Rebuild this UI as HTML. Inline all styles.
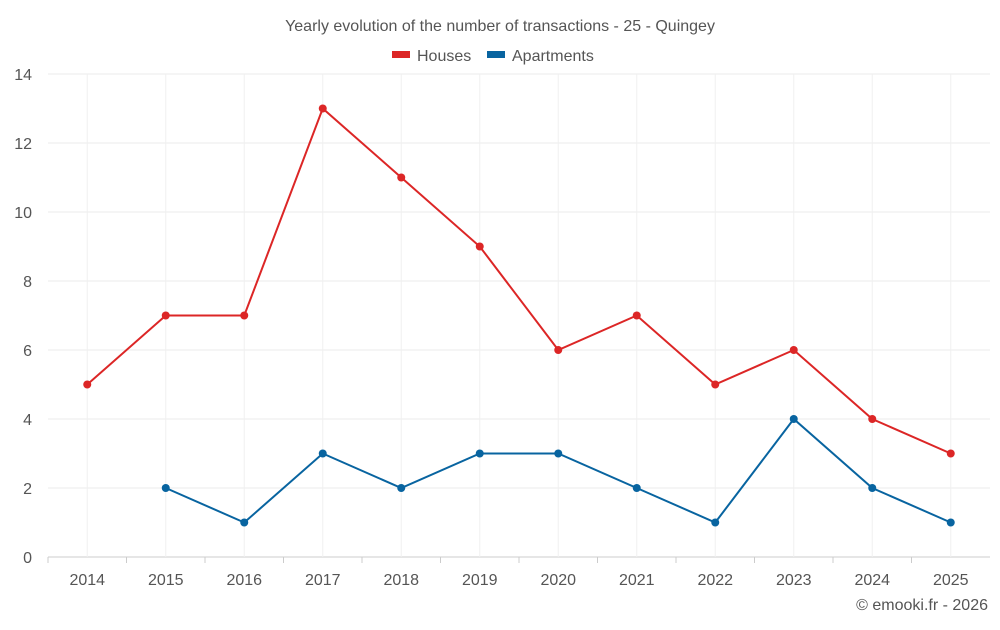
<!DOCTYPE html>
<html><head><meta charset="utf-8"><style>
body{margin:0;background:#fff;font-family:"Liberation Sans",sans-serif}
svg text{font-family:"Liberation Sans",sans-serif}
</style></head><body>
<svg id="chart" width="1000" height="625">
<text x="500" y="31" text-anchor="middle" font-size="16" fill="#555">Yearly evolution of the number of transactions - 25 - Quingey</text>
<g>
<g><rect x="392" y="51" width="18" height="7" fill="#dc2626"/><text x="417" y="61" font-size="16" fill="#555">Houses</text></g>
<g><rect x="487" y="51" width="18" height="7" fill="#0864a0"/><text x="512" y="61" font-size="16" fill="#555">Apartments</text></g>
</g>
<g id="grid"></g><g id="axes"></g><g id="series"></g>
<text x="988" y="610" text-anchor="end" font-size="16" fill="#555">© emooki.fr - 2026</text>
</svg>
<script>
const categories=["2014","2015","2016","2017","2018","2019","2020","2021","2022","2023","2024","2025"];
const houses=[5,7,7,13,11,9,6,7,5,6,4,3];
const apartments=[null,2,1,3,2,3,3,2,1,4,2,1];
const yTicks=[0,2,4,6,8,10,12,14];
const L=48,R=990,T=74,B=557,yMax=14;
const band=(R-L)/categories.length;
const x=i=>L+band*(i+0.5);
const y=v=>B-(v/yMax)*(B-T);
const NS="http://www.w3.org/2000/svg";
function mk(tag,attrs,parent){const e=document.createElementNS(NS,tag);for(const k in attrs)e.setAttribute(k,attrs[k]);parent.appendChild(e);return e;}
const grid=document.getElementById('grid'),axes=document.getElementById('axes'),series=document.getElementById('series');
yTicks.forEach(t=>{
 const l=mk('line',{x1:L,x2:R,y1:y(t),y2:y(t),stroke:t===0?'#ccc':'#ebebeb'},grid);
 
 
 const tx=mk('text',{x:32,y:y(t)+6,'text-anchor':'end','font-size':16,fill:'#555'},axes);
 tx.textContent=t;
 
 
});
categories.forEach((c,i)=>{
 const l=mk('line',{x1:x(i),x2:x(i),y1:T,y2:B,stroke:'#f0f0f0'},grid);
 
 
 const tk=mk('line',{x1:L+band*i,x2:L+band*i,y1:B,y2:B+6,stroke:'#ccc'},axes);
 
 
 const tx=mk('text',{x:x(i),y:585,'text-anchor':'middle','font-size':16,fill:'#555'},axes);
 tx.textContent=c;
 
 
});
function draw(data,color,name){
 let d='';data.forEach((v,i)=>{if(v==null)return;d+=(d?'L':'M')+x(i)+','+y(v);});
 const p=mk('path',{d:d,fill:'none',stroke:color,'stroke-width':2},series);
 
 
 data.forEach((v,i)=>{if(v==null)return;
  const c=mk('circle',{cx:x(i),cy:y(v),r:4,fill:color},series);
  
  
 });
}
draw(houses,'#dc2626','houses');
draw(apartments,'#0864a0','apartments');
</script>
</body></html>
